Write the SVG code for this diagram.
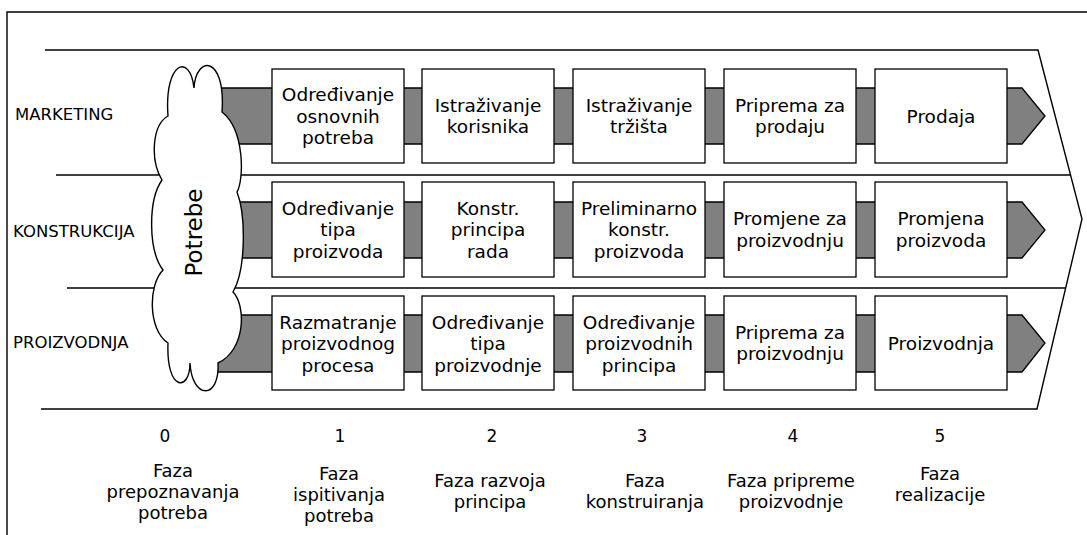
<svg xmlns="http://www.w3.org/2000/svg" width="1087" height="535" viewBox="0 0 1087 535">
<style>
.ln{fill:none;stroke:#000;stroke-width:1.4}
.bar{fill:#808080;stroke:#000;stroke-width:1.3}
.box{fill:#fff;stroke:#000;stroke-width:1.3}
text{font-family:"DejaVu Sans","Verdana",sans-serif;fill:#000}
.t{font-size:18.5px;text-anchor:middle}
.ph{font-size:18px;text-anchor:middle}
.lab{font-size:16.5px}
.num{font-size:17px;text-anchor:middle}
</style>
<rect width="1087" height="535" fill="#fff"/>
<g id="frame">
<path class="ln" d="M7,535 V12 H1087"/>
<path class="ln" d="M45,50 H1038 L1082,219 L1037,409 H41"/>
<path class="ln" d="M56,175 H1070"/>
<path class="ln" d="M67,288 H1065"/>
</g>
<g id="lane-labels">
<text class="lab" x="15" y="120">MARKETING</text>
<text class="lab" x="13" y="237">KONSTRUKCIJA</text>
<text class="lab" x="13" y="348">PROIZVODNJA</text>
</g>
<g id="connectors">
<path class="bar" d="M200,88 H1022 L1045,116 L1022,144 H200 Z"/>
<path class="bar" d="M200,202 H1022 L1045,230 L1022,258 H200 Z"/>
<path class="bar" d="M200,315 H1022 L1045,343 L1022,372 H200 Z"/>
</g>
<g id="potrebe">
<path fill="#fff" stroke="#000" stroke-width="1.4" d="M168,116 C164,62 190,52 194,88 C196,55 226,55 222,112 C245,130 244,180 237,192 C246,215 246,270 233,292 C246,305 246,350 218,363 C220,400 192,400 190,363 C190,392 166,392 168,343 C148,330 148,285 163,270 C148,250 148,200 162,180 C150,160 152,125 168,116 Z"/>
<text transform="translate(202,232.5) rotate(-90)" font-size="23" text-anchor="middle">Potrebe</text>
</g>
<g id="m1"><rect class="box" x="272" y="69" width="132" height="94"/><text class="t" x="338" y="101">Određivanje<tspan x="338" dy="21.5">osnovnih</tspan><tspan x="338" dy="21.5">potreba</tspan></text></g>
<g id="m2"><rect class="box" x="422" y="69" width="132" height="94"/><text class="t" x="488" y="111.75">Istraživanje<tspan x="488" dy="21.5">korisnika</tspan></text></g>
<g id="m3"><rect class="box" x="573" y="69" width="132" height="94"/><text class="t" x="639" y="111.75">Istraživanje<tspan x="639" dy="21.5">tržišta</tspan></text></g>
<g id="m4"><rect class="box" x="724" y="69" width="132" height="94"/><text class="t" x="790" y="111.75">Priprema za<tspan x="790" dy="21.5">prodaju</tspan></text></g>
<g id="m5"><rect class="box" x="875" y="69" width="132" height="94"/><text class="t" x="941" y="122.5">Prodaja</text></g>
<g id="k1"><rect class="box" x="272" y="182" width="132" height="95"/><text class="t" x="338" y="214.5">Određivanje<tspan x="338" dy="21.5">tipa</tspan><tspan x="338" dy="21.5">proizvoda</tspan></text></g>
<g id="k2"><rect class="box" x="422" y="182" width="132" height="95"/><text class="t" x="488" y="214.5">Konstr.<tspan x="488" dy="21.5">principa</tspan><tspan x="488" dy="21.5">rada</tspan></text></g>
<g id="k3"><rect class="box" x="573" y="182" width="132" height="95"/><text class="t" x="639" y="214.5">Preliminarno<tspan x="639" dy="21.5">konstr.</tspan><tspan x="639" dy="21.5">proizvoda</tspan></text></g>
<g id="k4"><rect class="box" x="724" y="182" width="132" height="95"/><text class="t" x="790" y="225.25">Promjene za<tspan x="790" dy="21.5">proizvodnju</tspan></text></g>
<g id="k5"><rect class="box" x="875" y="182" width="132" height="95"/><text class="t" x="941" y="225.25">Promjena<tspan x="941" dy="21.5">proizvoda</tspan></text></g>
<g id="p1"><rect class="box" x="272" y="296" width="132" height="94"/><text class="t" x="338" y="328.5">Razmatranje<tspan x="338" dy="21.5">proizvodnog</tspan><tspan x="338" dy="21.5">procesa</tspan></text></g>
<g id="p2"><rect class="box" x="422" y="296" width="132" height="94"/><text class="t" x="488" y="328.5">Određivanje<tspan x="488" dy="21.5">tipa</tspan><tspan x="488" dy="21.5">proizvodnje</tspan></text></g>
<g id="p3"><rect class="box" x="573" y="296" width="132" height="94"/><text class="t" x="639" y="328.5">Određivanje<tspan x="639" dy="21.5">proizvodnih</tspan><tspan x="639" dy="21.5">principa</tspan></text></g>
<g id="p4"><rect class="box" x="724" y="296" width="132" height="94"/><text class="t" x="790" y="338.75">Priprema za<tspan x="790" dy="21.5">proizvodnju</tspan></text></g>
<g id="p5"><rect class="box" x="875" y="296" width="132" height="94"/><text class="t" x="941" y="349.5">Proizvodnja</text></g>
<g id="phases">
<text class="num" x="165" y="442">0</text>
<text class="num" x="340" y="442">1</text>
<text class="num" x="492" y="442">2</text>
<text class="num" x="642" y="442">3</text>
<text class="num" x="793" y="442">4</text>
<text class="num" x="940" y="442">5</text>
<text class="ph" x="173" y="477">Faza<tspan x="173" dy="21">prepoznavanja</tspan><tspan x="173" dy="21">potreba</tspan></text>
<text class="ph" x="339" y="480">Faza<tspan x="339" dy="21">ispitivanja</tspan><tspan x="339" dy="21">potreba</tspan></text>
<text class="ph" x="490" y="487">Faza razvoja<tspan x="490" dy="21">principa</tspan></text>
<text class="ph" x="645" y="487">Faza<tspan x="645" dy="21">konstruiranja</tspan></text>
<text class="ph" x="791" y="487">Faza pripreme<tspan x="791" dy="21">proizvodnje</tspan></text>
<text class="ph" x="940" y="480">Faza<tspan x="940" dy="21">realizacije</tspan></text>
</g>
</svg>
